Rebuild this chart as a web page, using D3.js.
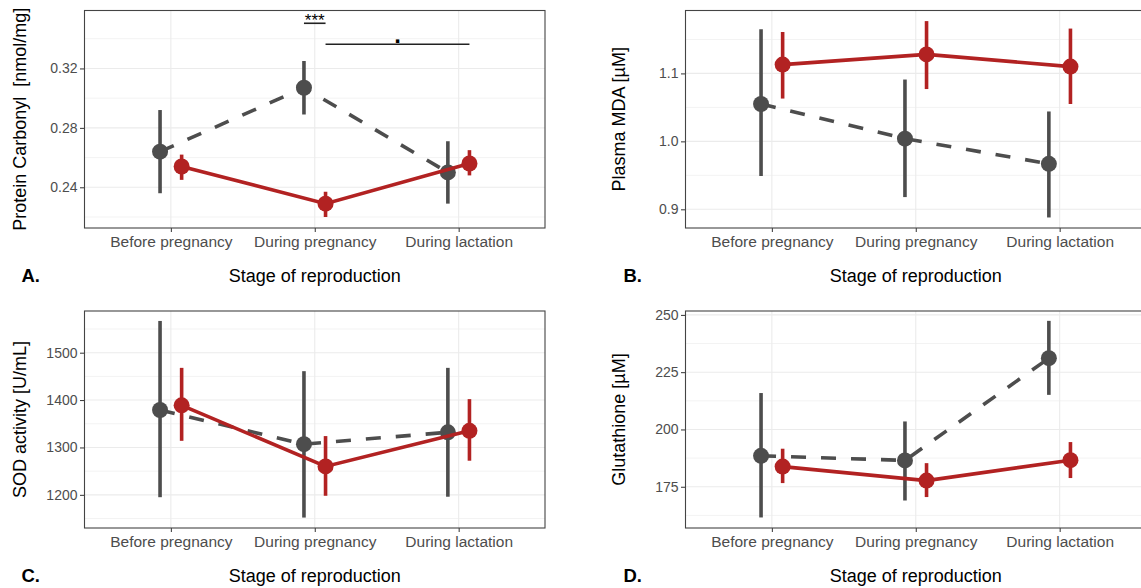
<!DOCTYPE html>
<html>
<head>
<meta charset="utf-8">
<script src="https://cdn.jsdelivr.net/npm/d3@7"></script>
<style>
    body { margin: 0; background: #fff; }
    text { font-family: "Liberation Sans", Arial, sans-serif; }
</style>
</head>
<body>
<div id="chart"></div>
<script>
/*
four panel pointrange chart, grey (dashed) vs red (solid) group
 */

var stages = ["Before pregnancy", "During pregnancy", "During lactation"];

// each entry: [lower, mean, upper]
var carbonylGrey = [[0.236, 0.264, 0.292], [0.289, 0.307, 0.325], [0.229, 0.250, 0.271]];
var carbonylRed = [[0.245, 0.254, 0.262], [0.220, 0.229, 0.237], [0.248, 0.256, 0.265]];
var mdaGrey = [[0.949, 1.055, 1.165], [0.918, 1.004, 1.091], [0.888, 0.967, 1.044]];
var mdaRed = [[1.063, 1.113, 1.161], [1.077, 1.128, 1.177], [1.055, 1.110, 1.166]];
var sodGrey = [[1195, 1379, 1567], [1152, 1307, 1461], [1196, 1332, 1468]];
var sodRed = [[1314, 1389, 1468], [1198, 1260, 1324], [1272, 1335, 1402]];
var gshGrey = [[161.6, 188.5, 215.9], [169.0, 186.5, 203.5], [215.1, 231.1, 247.4]];
var gshRed = [[176.6, 183.8, 191.6], [170.5, 177.7, 185.3], [178.8, 186.6, 194.5]];

// tick labels / grid
var carbonylTicks = [0.24, 0.28, 0.32];
var carbonylMinor = [0.22, 0.26, 0.30, 0.34];
var mdaTicks = [0.9, 1.0, 1.1];
var mdaMinor = [0.95, 1.05, 1.15];
var sodTicks = [1200, 1300, 1400, 1500];
var sodMinor = [1150, 1250, 1350, 1450, 1550];
var gshTicks = [175, 200, 225, 250];
var gshMinor = [162.5, 187.5, 212.5, 237.5];

// significance brackets (panel A only): [stage index, group] -> [stage index, group]
var sigLabels = ["***", "."];
var sigHeights = [0.3504, 0.3363];
var sigFrom = [[1, "grey"], [1, "red"]];
var sigTo = [[1, "red"], [2, "red"]];

var greyColor = "#4D4D4D";
var redColor = "#B22222";

var width = 1141;
var height = 588;

var svg = d3.select("#chart")
    .append("svg")
    .attr("width", width)
    .attr("height", height);

var panels = [
    {label: "A.", title: "Protein Carbonyl \u00a0[nmol/mg]", grey: carbonylGrey, red: carbonylRed,
        ticks: carbonylTicks, minor: carbonylMinor, domain: [0.2126, 0.359], fmt: d3.format(".2f"),
        left: 84.5, top: 10.5, right: 545, bottom: 228, sig: true},
    {label: "B.", title: "Plasma MDA [\u00b5M]", grey: mdaGrey, red: mdaRed,
        ticks: mdaTicks, minor: mdaMinor, domain: [0.8725, 1.1926], fmt: d3.format(".1f"),
        left: 685.5, top: 10.5, right: 1146, bottom: 228},
    {label: "C.", title: "SOD activity [U/mL]", grey: sodGrey, red: sodRed,
        ticks: sodTicks, minor: sodMinor, domain: [1130, 1588], fmt: d3.format("d"),
        left: 84.5, top: 311, right: 545, bottom: 528},
    {label: "D.", title: "Glutathione [\u00b5M]", grey: gshGrey, red: gshRed,
        ticks: gshTicks, minor: gshMinor, domain: [157, 251.7], fmt: d3.format("d"),
        left: 685.5, top: 311, right: 1146, bottom: 528}
];

panels.forEach(drawPanel);

function drawPanel(p) {
    var g = svg.append("g");

    //scales
    var xScale = d3.scalePoint()
        .domain(stages)
        .range([p.left, p.right])
        .padding(0.6);
    var yScale = d3.scaleLinear()
        .domain(p.domain)
        .range([p.bottom, p.top]);
    var dodge = xScale.step() * 0.075;

    function xPos(i, group) {
        return xScale(stages[i]) + (group === "grey" ? -dodge : dodge);
    }

    //grid:
    g.selectAll(".minor")
        .data(p.minor)
        .enter().append("line")
        .attr("x1", p.left).attr("x2", p.right)
        .attr("y1", function (d) { return yScale(d); })
        .attr("y2", function (d) { return yScale(d); })
        .attr("stroke", "#F3F3F3")
        .attr("stroke-width", 1);

    g.selectAll(".major")
        .data(p.ticks)
        .enter().append("line")
        .attr("x1", p.left).attr("x2", p.right)
        .attr("y1", function (d) { return yScale(d); })
        .attr("y2", function (d) { return yScale(d); })
        .attr("stroke", "#EBEBEB")
        .attr("stroke-width", 1.1);

    g.selectAll(".vgrid")
        .data(stages)
        .enter().append("line")
        .attr("x1", function (d) { return xScale(d); })
        .attr("x2", function (d) { return xScale(d); })
        .attr("y1", p.top).attr("y2", p.bottom)
        .attr("stroke", "#EBEBEB")
        .attr("stroke-width", 1.1);

    //axis (d3 axes, restyled like ggplot)
    var yAxis = d3.axisLeft(yScale).tickValues(p.ticks).tickFormat(p.fmt).tickSize(4.5).tickPadding(2.5);
    var xAxis = d3.axisBottom(xScale).tickSize(4).tickPadding(4);

    var ya = g.append("g")
        .attr("transform", "translate(" + p.left + ",0)")
        .call(yAxis);
    ya.select(".domain").remove();
    ya.selectAll("line").attr("stroke", "#333333");
    ya.selectAll("text")
        .attr("fill", greyColor)
        .attr("font-size", "14px")
        .attr("font-family", "Liberation Sans, Arial, sans-serif");

    var xa = g.append("g")
        .attr("transform", "translate(0," + p.bottom + ")")
        .call(xAxis);
    xa.select(".domain").remove();
    xa.selectAll("line").attr("stroke", "#333333");
    xa.selectAll("text")
        .attr("fill", greyColor)
        .attr("font-size", "15.5px")
        .attr("font-family", "Liberation Sans, Arial, sans-serif");

    //panel border
    g.append("rect")
        .attr("x", p.left)
        .attr("y", p.top)
        .attr("width", p.right - p.left)
        .attr("height", p.bottom - p.top)
        .attr("fill", "none")
        .attr("stroke", "#444444")
        .attr("stroke-width", 1.1);

    //groups: grey first, red on top
    drawGroup(g, p.grey, "grey", greyColor, "15,15");
    drawGroup(g, p.red, "red", redColor, null);

    function drawGroup(g, values, group, color, dash) {
        var line = d3.line()
            .x(function (d, i) { return xPos(i, group); })
            .y(function (d) { return yScale(d[1]); });

        g.append("path")
            .datum(values)
            .attr("d", line)
            .attr("fill", "none")
            .attr("stroke", color)
            .attr("stroke-width", 3.6)
            .attr("stroke-dasharray", dash);

        g.selectAll(".bar-" + group)
            .data(values)
            .enter().append("line")
            .attr("x1", function (d, i) { return xPos(i, group); })
            .attr("x2", function (d, i) { return xPos(i, group); })
            .attr("y1", function (d) { return yScale(d[0]); })
            .attr("y2", function (d) { return yScale(d[2]); })
            .attr("stroke", color)
            .attr("stroke-width", 3.6);

        g.selectAll(".pt-" + group)
            .data(values)
            .enter().append("circle")
            .attr("cx", function (d, i) { return xPos(i, group); })
            .attr("cy", function (d) { return yScale(d[1]); })
            .attr("r", 8)
            .attr("fill", color);
    }

    //significance brackets
    if (p.sig) {
        for (var k = 0; k < sigLabels.length; k++) {
            var x1 = xPos(sigFrom[k][0], sigFrom[k][1]);
            var x2 = xPos(sigTo[k][0], sigTo[k][1]);
            var yy = yScale(sigHeights[k]);
            g.append("line")
                .attr("x1", x1).attr("x2", x2)
                .attr("y1", yy).attr("y2", yy)
                .attr("stroke", "#222")
                .attr("stroke-width", 1.6);
            if (sigLabels[k] === ".") {
                g.append("text")
                    .attr("x", (x1 + x2) / 2)
                    .attr("y", yy - 1.5)
                    .attr("text-anchor", "middle")
                    .attr("font-size", "24px")
                    .attr("font-weight", "bold")
                    .attr("fill", "#000")
                    .text(sigLabels[k]);
            } else {
                g.append("text")
                    .attr("x", (x1 + x2) / 2)
                    .attr("y", yy + 3)
                    .attr("text-anchor", "middle")
                    .attr("font-size", "17px")
                    .attr("fill", "#000")
                    .text(sigLabels[k]);
            }
        }
    }

    //titles
    var titleX = p.left < 300 ? 25.5 : 625;
    g.append("text")
        .attr("transform", "translate(" + titleX + "," + ((p.top + p.bottom) / 2) + ") rotate(-90)")
        .attr("text-anchor", "middle")
        .attr("font-size", "18px")
        .attr("fill", "#000")
        .text(p.title);

    g.append("text")
        .attr("x", (p.left + Math.min(p.right, p.left + 460.5)) / 2)
        .attr("y", p.bottom + 53.5)
        .attr("text-anchor", "middle")
        .attr("font-size", "18px")
        .attr("fill", "#000")
        .text("Stage of reproduction");

    g.append("text")
        .attr("x", p.left < 300 ? 21.5 : 623.5)
        .attr("y", p.bottom + 53.5)
        .attr("font-size", "18.5px")
        .attr("font-weight", "bold")
        .attr("fill", "#000")
        .text(p.label);
}
</script>
</body>
</html>
